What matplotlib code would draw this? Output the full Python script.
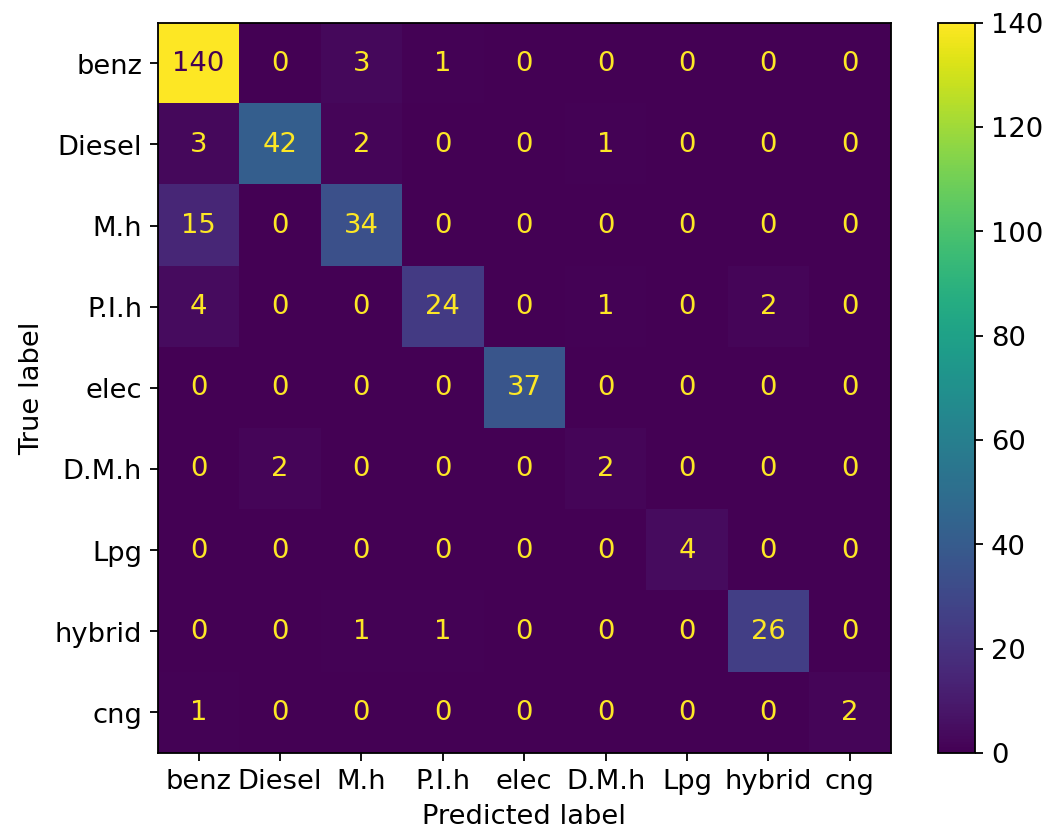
import numpy as np
import matplotlib.pyplot as plt

labels = ["benz", "Diesel", "M.h", "P.I.h", "elec", "D.M.h", "Lpg", "hybrid", "cng"]
cm = np.array([
    [140, 0, 3, 1, 0, 0, 0, 0, 0],
    [3, 42, 2, 0, 0, 1, 0, 0, 0],
    [15, 0, 34, 0, 0, 0, 0, 0, 0],
    [4, 0, 0, 24, 0, 1, 0, 2, 0],
    [0, 0, 0, 0, 37, 0, 0, 0, 0],
    [0, 2, 0, 0, 0, 2, 0, 0, 0],
    [0, 0, 0, 0, 0, 0, 4, 0, 0],
    [0, 0, 1, 1, 0, 0, 0, 26, 0],
    [1, 0, 0, 0, 0, 0, 0, 0, 2],
])

plt.rcParams["font.size"] = 12

fig = plt.figure(figsize=(6.4, 5.1), dpi=164)
ax = fig.add_axes([0.1505, 0.0993, 0.698, 0.873])
cax = fig.add_axes([0.894, 0.0993, 0.035, 0.873])

cmap = plt.get_cmap("viridis")
im = ax.imshow(cm, cmap=cmap, interpolation="nearest", aspect="auto")

# dark text on bright cells, yellow text on dark ones
thresh = (cm.max() + cm.min()) / 2.0
for i in range(cm.shape[0]):
    for j in range(cm.shape[1]):
        color = cmap(0) if cm[i, j] > thresh else cmap(256)
        ax.text(j, i, str(cm[i, j]), ha="center", va="center", color=color)

ax.set_xticks(range(len(labels)))
ax.set_xticklabels(labels)
ax.set_yticks(range(len(labels)))
ax.set_yticklabels(labels)
ax.set_xlabel("Predicted label")
ax.set_ylabel("True label")

fig.colorbar(im, cax=cax)

fig.savefig("out.png", dpi=164)
